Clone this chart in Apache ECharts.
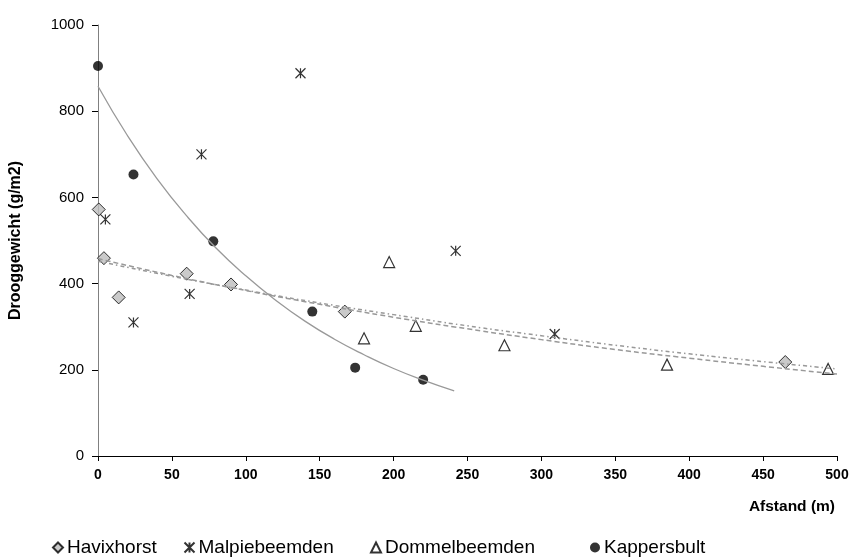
<!DOCTYPE html>
<html>
<head>
<meta charset="utf-8">
<script src="https://cdn.jsdelivr.net/npm/echarts@6/dist/echarts.min.js"></script>
<style>
  html, body { margin: 0; padding: 0; background: #fff; }
  #chart { width: 855px; height: 559px; }
</style>
</head>
<body>
<div id="chart"></div>
<script>
// measured points: [afstand, drooggewicht]
var havixhorst = [[0.5, 572], [4, 459], [14, 368], [60, 423], [90, 398], [167, 335], [465, 218]];
var malpiebeemden = [[5, 549], [24, 310], [62, 376], [70, 700], [137, 888], [242, 476], [309, 283]];
var dommelbeemden = [[180, 273], [197, 450], [215, 302], [275, 257], [385, 212], [494, 202]];
var kappersbult = [[0, 905], [24, 653], [78, 498], [145, 335], [174, 205], [220, 177]];

// trend lines
var trendKapX = [0, 20, 40, 60, 80, 100, 120, 140, 160, 180, 200, 220, 241];
var trendKapY = [858, 743, 643, 557, 482, 418, 362, 313, 271, 235, 203, 176, 151];
var trendX = [0, 50, 100, 150, 200, 250, 300, 350, 400, 450, 500];
var trendHavY = [458, 419, 384, 352, 322, 295, 270, 247, 227, 208, 190];
var trendDomY = [452, 417, 385, 355, 328, 302, 279, 257, 237, 219, 202];

var legendNames = ['Havixhorst', 'Malpiebeemden', 'Dommelbeemden', 'Kappersbult'];
var legendLeft = [47, 177, 365, 585];

function pairs(xs, ys) {
  var out = [];
  for (var i = 0; i < xs.length; i++) out.push([xs[i], ys[i]]);
  return out;
}

var starPath = 'path://M0,0L10,10M10,0L0,10M5,0L5,10';
var font = 'Liberation Sans, Arial, sans-serif';

// one legend per item, the original spaces them like tab stops
var legends = [];
for (var i = 0; i < legendNames.length; i++) {
  legends.push({
    data: [legendNames[i]],
    left: legendLeft[i],
    top: 533,
    itemWidth: 10,
    itemHeight: 10,
    itemGap: 0,
    textStyle: { fontSize: 19, color: '#000', fontFamily: font, padding: [0, 0, 0, -1] }
  });
}

var myChart = echarts.init(document.getElementById('chart'));
var option = {
  animation: false,
  backgroundColor: '#fff',
  textStyle: { fontFamily: font },
  grid: { left: 98, right: 18, top: 25, bottom: 103 },
  legend: legends,
  xAxis: {
    type: 'value',
    min: 0,
    max: 500,
    interval: 50,
    name: 'Afstand (m)',
    nameLocation: 'end',
    nameGap: 0,
    nameTextStyle: {
      fontWeight: 'bold', fontSize: 15.5, color: '#000', fontFamily: font,
      align: 'right', verticalAlign: 'top', padding: [43, 2, 0, 0]
    },
    axisLine: { lineStyle: { color: '#000', width: 1 } },
    axisTick: { length: 5, lineStyle: { color: '#000' } },
    axisLabel: { fontWeight: 'bold', fontSize: 14, color: '#000', margin: 12 },
    splitLine: { show: false }
  },
  yAxis: {
    type: 'value',
    min: 0,
    max: 1000,
    interval: 200,
    name: 'Drooggewicht (g/m2)',
    nameLocation: 'middle',
    nameGap: 74,
    nameTextStyle: { fontWeight: 'bold', fontSize: 16, color: '#000', fontFamily: font },
    axisLine: { show: true, lineStyle: { color: '#808080', width: 1 } },
    axisTick: { show: true, length: 6, lineStyle: { color: '#000' } },
    axisLabel: { fontSize: 15, color: '#000', margin: 14, formatter: function (v) { return String(v); } },
    splitLine: { show: false }
  },
  series: [
    {
      name: 'trendKappersbult', type: 'line', data: pairs(trendKapX, trendKapY),
      smooth: true, showSymbol: false, silent: true,
      lineStyle: { color: '#999', width: 1.3 }
    },
    {
      name: 'trendHavixhorst', type: 'line', data: pairs(trendX, trendHavY),
      smooth: true, showSymbol: false, silent: true,
      lineStyle: { color: '#999', width: 1.5, type: [5, 3] }
    },
    {
      name: 'trendDommelbeemden', type: 'line', data: pairs(trendX, trendDomY),
      smooth: true, showSymbol: false, silent: true,
      lineStyle: { color: '#999', width: 1.5, type: [4, 3, 1.5, 3] }
    },
    {
      name: 'Havixhorst', type: 'scatter', data: havixhorst,
      symbol: 'diamond', symbolSize: 13,
      itemStyle: { color: '#bdbdbd', borderColor: '#000', borderWidth: 1 }
    },
    {
      name: 'Malpiebeemden', type: 'scatter', data: malpiebeemden,
      symbol: starPath, symbolSize: 10,
      itemStyle: { color: 'none', borderColor: '#000', borderWidth: 1.2 }
    },
    {
      name: 'Dommelbeemden', type: 'scatter', data: dommelbeemden,
      symbol: 'triangle', symbolSize: 11,
      itemStyle: { color: '#fff', borderColor: '#000', borderWidth: 1.2 }
    },
    {
      name: 'Kappersbult', type: 'scatter', data: kappersbult,
      symbol: 'circle', symbolSize: 10,
      itemStyle: { color: '#000' }
    }
  ]
};

myChart.setOption(option);
</script>
</body>
</html>
